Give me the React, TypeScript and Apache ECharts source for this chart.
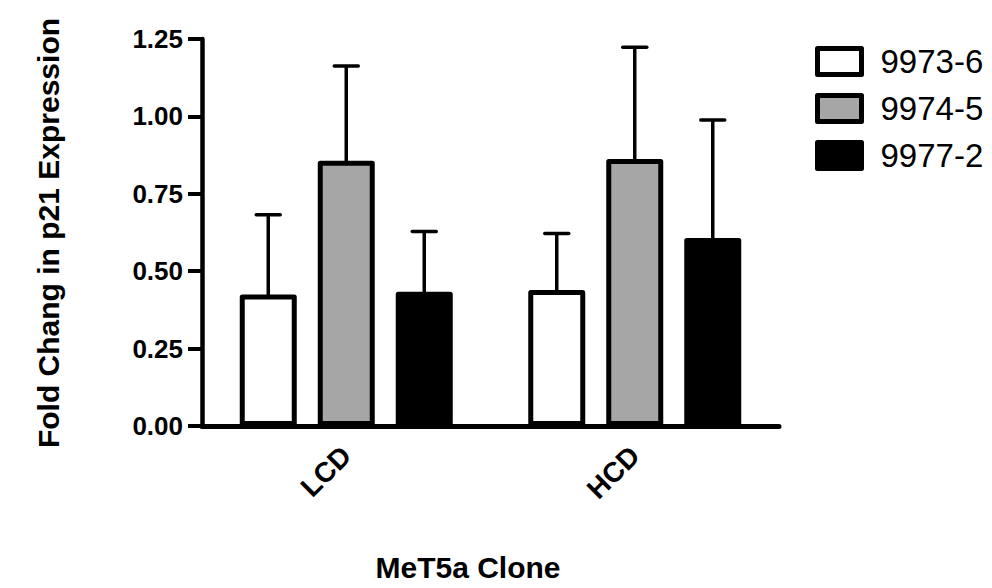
import React, { useEffect, useRef } from "react";
import * as echarts from "echarts";

const categories = ["LCD", "HCD"];
const seriesNames = ["9973-6", "9974-5", "9977-2"];
const seriesColors = ["#ffffff", "#a6a6a6", "#000000"];
const means9973 = [0.425, 0.439];
const means9974 = [0.857, 0.862];
const means9977 = [0.434, 0.607];
const upper9973 = [0.682, 0.622];
const upper9974 = [1.163, 1.223];
const upper9977 = [0.628, 0.988];
const yTicks = [0, 0.25, 0.5, 0.75, 1.0, 1.25];

const FONT = "'Liberation Sans', Arial, Helvetica, sans-serif";
const BAR_W = 57;
const BAR_GAP = 21;
const BORDER = 5;

export default function App() {
  const ref = useRef<HTMLDivElement>(null);

  useEffect(() => {
    if (!ref.current) return;
    const chart = echarts.init(ref.current, undefined, { renderer: "svg" });
    const means = [means9973, means9974, means9977];
    const uppers = [upper9973, upper9974, upper9977];

    const errData: number[][] = [];
    categories.forEach((_, ci) => {
      means.forEach((m, si) => {
        errData.push([ci, m[ci], uppers[si][ci], si]);
      });
    });

    const option: any = {
      animation: false,
      backgroundColor: "#ffffff",
      grid: { left: 202, right: 213, top: 39, bottom: 162, containLabel: false },
      legend: {
        orient: "vertical",
        left: 810,
        top: 40,
        itemWidth: 44,
        itemHeight: 26,
        itemGap: 14,
        icon: "rect",
        data: seriesNames,
        itemStyle: { borderWidth: BORDER, borderColor: "#000000" },
        textStyle: {
          fontFamily: FONT,
          fontSize: 33,
          color: "#000",
          lineHeight: 32,
          padding: [0, 0, 0, 14],
        },
        selectedMode: false,
      },
      xAxis: {
        type: "category",
        data: categories,
        axisLine: { lineStyle: { color: "#000", width: 5 } },
        axisTick: { alignWithLabel: true, length: 13, lineStyle: { color: "#000", width: 4 } },
        axisLabel: {
          rotate: 45,
          margin: 25,
          fontFamily: FONT,
          fontSize: 28,
          fontWeight: "bold",
          color: "#000",
        },
        splitLine: { show: false },
      },
      yAxis: {
        type: "value",
        min: yTicks[0],
        max: yTicks[yTicks.length - 1],
        interval: 0.25,
        axisLine: { show: true, lineStyle: { color: "#000", width: 4.5 } },
        axisTick: { show: true, length: 14, lineStyle: { color: "#000", width: 4 } },
        axisLabel: {
          margin: 19,
          fontFamily: FONT,
          fontSize: 26,
          fontWeight: "bold",
          color: "#000",
          formatter: (v: number) => v.toFixed(2),
        },
        splitLine: { show: false },
      },
      series: [
        ...seriesNames.map((name, si) => ({
          name,
          type: "bar",
          data: means[si],
          barWidth: BAR_W,
          barGap: `${(BAR_GAP / BAR_W) * 100}%`,
          itemStyle: {
            color: seriesColors[si],
            borderColor: "#000",
            borderWidth: BORDER,
            borderJoin: "round",
          },
          z: 2,
        })),
        {
          name: "errors",
          type: "custom",
          z: 3,
          data: errData,
          encode: { x: 0, y: 1 },
          renderItem: (params: any, api: any) => {
            const ci = api.value(0);
            const m = api.value(1);
            const u = api.value(2);
            const si = api.value(3);
            const base = api.coord([ci, m]);
            const top = api.coord([ci, u]);
            const x = base[0] + (si - 1) * (BAR_W + BAR_GAP);
            const half = 12;
            return {
              type: "group",
              children: [
                {
                  type: "line",
                  shape: { x1: x, y1: base[1] + 3, x2: x, y2: top[1] },
                  style: { stroke: "#000", lineWidth: 3.5 },
                },
                {
                  type: "line",
                  shape: { x1: x - half, y1: top[1], x2: x + half, y2: top[1] },
                  style: { stroke: "#000", lineWidth: 3.5, lineCap: "round" },
                },
              ],
            };
          },
        },
      ],
      graphic: [
        {
          type: "text",
          x: 48,
          y: 233,
          rotation: Math.PI / 2,
          style: {
            text: "Fold Chang in p21 Expression",
            fontFamily: FONT,
            fontSize: 30,
            fontWeight: "bold",
            fill: "#000",
            align: "center",
            verticalAlign: "middle",
          },
        },
        {
          type: "text",
          x: 468,
          y: 567,
          style: {
            text: "MeT5a Clone",
            fontFamily: FONT,
            fontSize: 30,
            fontWeight: "bold",
            fill: "#000",
            align: "center",
            verticalAlign: "middle",
          },
        },
      ],
    };

    chart.setOption(option);
    return () => chart.dispose();
  }, []);

  return (
    <div
      ref={ref}
      style={{ position: "fixed", left: 0, top: 0, width: 992, height: 588, background: "#fff" }}
    />
  );
}
